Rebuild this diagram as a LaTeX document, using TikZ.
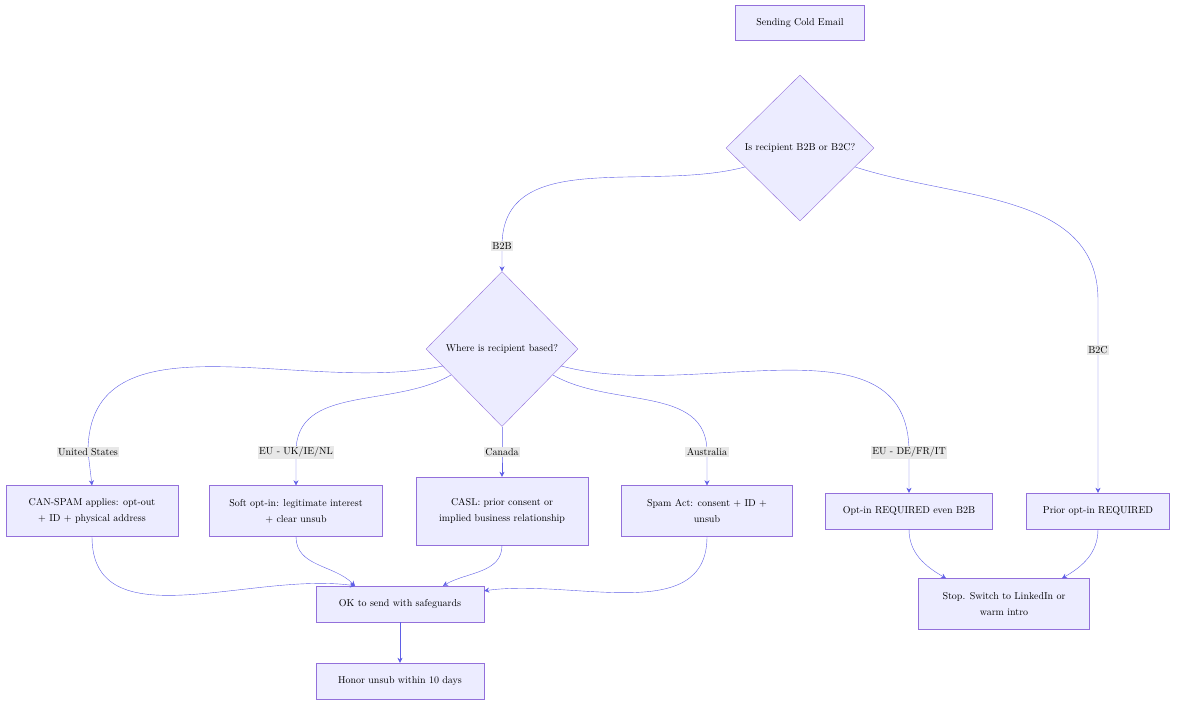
\documentclass[tikz,border=0pt]{standalone}
\usepackage{tikz}
\usetikzlibrary{arrows.meta,shapes.geometric}
\definecolor{boxfill}{RGB}{236,236,255}
\definecolor{boxline}{RGB}{147,112,219}
\definecolor{edge}{RGB}{95,95,230}
\definecolor{lblfill}{RGB}{232,232,232}
\tikzset{
  box/.style={draw=boxline, fill=boxfill, rectangle, align=center, inner sep=0pt},
  dec/.style={draw=boxline, fill=boxfill, diamond, aspect=1, inner sep=0pt, minimum width=148pt, minimum height=146pt, align=center},
  lbl/.style={fill=lblfill, inner sep=1.5pt},
  flow/.style={draw=edge, -{Stealth[length=5pt,width=5pt]}}
}
\begin{document}
\begin{tikzpicture}[x=1pt, y=-1pt, font=\fontsize{10}{16}\selectfont]
\useasboundingbox (0,0) rectangle (1184,709);

% Nodes
\node (start) [box, minimum width=129pt, minimum height=35pt] at (800,23) {Sending Cold Email};
\node (type) [dec] at (800,148) {Is recipient B2B or B2C?};
\node (where) [dec, minimum width=152pt, minimum height=155pt] at (502,349) {Where is recipient based?};
\node (us) [box, minimum width=172pt, minimum height=51pt] at (92,511) {CAN-SPAM applies: opt-out\\+ ID + physical address};
\node (uk) [box, minimum width=173pt, minimum height=51pt] at (296,511) {Soft opt-in: legitimate interest\\+ clear unsub};
\node (ca) [box, minimum width=172pt, minimum height=68pt] at (502,511) {CASL: prior consent or\\implied business relationship};
\node (au) [box, minimum width=171pt, minimum height=51pt] at (707,511) {Spam Act: consent + ID +\\unsub};
\node (eu) [box, minimum width=167pt, minimum height=36pt] at (909,511) {Opt-in REQUIRED even B2B};
\node (b2c) [box, minimum width=143pt, minimum height=36pt] at (1098,511) {Prior opt-in REQUIRED};
\node (ok) [box, minimum width=168pt, minimum height=36pt] at (400,604) {OK to send with safeguards};
\node (honor) [box, minimum width=168pt, minimum height=36pt] at (400,681) {Honor unsub within 10 days};
\node (stop) [box, minimum width=171pt, minimum height=51pt] at (1004,604) {Stop. Switch to LinkedIn or\\warm intro};

% Label points
\coordinate (cB2B) at (502,246);
\coordinate (cB2C) at (1098,350);
\coordinate (cUS) at (88,452);
\coordinate (cUK) at (296,452);
\coordinate (cCA) at (502,452);
\coordinate (cAU) at (707,452);
\coordinate (cEU) at (909,452);

% Edges
\draw[flow] (type.199) to[out=-165,in=90] (cB2B) -- (where.north);
\draw[flow] (type.-19) to[out=-18,in=90] (1098,300) -- (cB2C) -- (b2c.north);
\draw[flow] (where.196) to[out=-168,in=90] (cUS) -- (us.north);
\draw[flow] (where.207) to[out=-150,in=90] (cUK) -- (uk.north);
\draw[flow] (where.south) -- (cCA) -- (ca.north);
\draw[flow] (where.-27) to[out=-30,in=90] (cAU) -- (au.north);
\draw[flow] (where.-16) to[out=-15,in=90] (cEU) -- (eu.north);
\draw[flow] (us.south) to[out=-90,in=172] ([xshift=-45pt]ok.north);
\draw[flow] (uk.south) to[out=-90,in=135] ([xshift=-45pt]ok.north);
\draw[flow] (ca.south) to[out=-90,in=30] ([xshift=43pt]ok.north);
\draw[flow] (au.south) to[out=-90,in=8] ([yshift=-5pt]ok.north east);
\draw[flow] (ok.south) -- (honor.north);
\draw[flow] (eu.south) to[out=-90,in=150] ([xshift=-58pt]stop.north);
\draw[flow] (b2c.south) to[out=-90,in=30] ([xshift=58pt]stop.north);

% Edge labels
\node[lbl] at (cB2B) {B2B};
\node[lbl] at (cB2C) {B2C};
\node[lbl] at (cUS) {United States};
\node[lbl] at (cUK) {EU - UK/IE/NL};
\node[lbl] at (cCA) {Canada};
\node[lbl] at (cAU) {Australia};
\node[lbl] at (cEU) {EU - DE/FR/IT};
\end{tikzpicture}
\end{document}
